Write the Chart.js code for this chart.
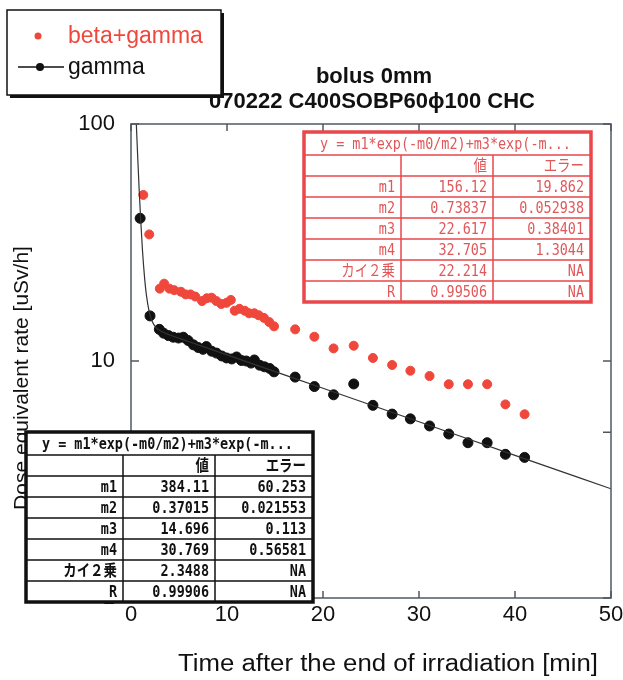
<!DOCTYPE html>
<html>
<head>
<meta charset="utf-8">
<script src="https://cdn.jsdelivr.net/npm/chart.js@4.4.1/dist/chart.umd.min.js"></script>
<style>
  body { margin: 0; background: #fff; }
  canvas { display: block; }
</style>
</head>
<body>
<canvas id="myChart" width="623" height="680"></canvas>
<script>
// gamma (black dots), time [min] and rate [uSv/h]
const gammaTime = [0.95, 1.98, 2.95, 3.4, 3.9, 4.4, 4.95, 5.45, 5.95, 6.5, 7.0, 7.5, 7.85, 8.4, 8.9, 9.45, 9.95, 10.5, 11.0, 11.5, 12.0, 12.5, 12.85, 13.4, 13.9, 14.45, 14.9,
  17.1, 19.1, 21.1, 23.2, 25.2, 27.2, 29.1, 31.1, 33.1, 35.1, 37.1, 39.0, 41.0];
const gammaRate = [40.0, 15.5, 13.6, 13.1, 12.8, 12.6, 12.5, 12.6, 12.2, 11.7, 11.4, 11.2, 11.5, 11.0, 10.8, 10.5, 10.3, 10.2, 10.4, 10.05, 10.0, 9.8, 10.1, 9.6, 9.45, 9.3, 9.0,
  8.55, 7.8, 7.2, 8.0, 6.5, 5.97, 5.7, 5.32, 4.92, 4.52, 4.52, 4.04, 3.92];

// beta+gamma (red dots)
const betaTime = [1.28, 1.9, 3.0, 3.45, 4.0, 4.5, 5.2, 5.7, 6.2, 6.7, 7.4, 7.9, 8.4, 8.9, 9.4, 9.95, 10.4, 10.8, 11.3, 11.85, 12.3, 12.85, 13.3, 13.85, 14.4, 14.9,
  17.1, 19.1, 21.1, 23.2, 25.2, 27.2, 29.1, 31.1, 33.1, 35.1, 37.1, 39.0, 41.0];
const betaRate = [50.2, 34.2, 20.2, 21.2, 20.2, 19.9, 19.6, 19.1, 19.1, 18.7, 17.9, 18.4, 18.5, 17.9, 17.4, 17.6, 18.1, 16.3, 16.6, 16.3, 15.9, 15.9, 15.6, 15.2, 14.6, 14.0,
  13.6, 12.66, 11.3, 11.6, 10.3, 9.62, 9.1, 8.64, 7.98, 7.98, 7.98, 6.56, 5.96];

// fitted curve for gamma
const fitTime = [0.555, 0.7, 0.85, 1.0, 1.2, 1.4, 1.6, 1.9, 2.2, 2.6, 3.0, 4.0, 6.0, 10, 20, 30, 40, 50];
const fitRate = [100, 72.3, 52.9, 40.0, 29.1, 22.8, 19.05, 16.1, 14.7, 13.85, 13.45, 12.9, 12.09, 10.62, 7.67, 5.54, 4.0, 2.89];

const xTicks = [0, 10, 20, 30, 40, 50];
const yTicks = [1, 10, 100];
const yMinor = [5];

// fit result tables
const tableHead = "y = m1*exp(-m0/m2)+m3*exp(-m...";
const colNames = ["値", "エラー"];
const rowNames = ["m1", "m2", "m3", "m4", "カイ２乗", "R"];
const gammaValue = ["384.11", "0.37015", "14.696", "30.769", "2.3488", "0.99906"];
const gammaError = ["60.253", "0.021553", "0.113", "0.56581", "NA", "NA"];
const betaValue = ["156.12", "0.73837", "22.617", "32.705", "22.214", "0.99506"];
const betaError = ["19.862", "0.052938", "0.38401", "1.3044", "NA", "NA"];

const RED = "#f0473c";

const toPoints = (xs, ys) => xs.map((v, i) => ({ x: v, y: ys[i] }));

const cellText = (ctx, text, x, y, align, bold) => {
  ctx.save();
  ctx.font = (bold ? "bold " : "") + '16px "DejaVu Sans Mono", "Noto Sans CJK JP"';
  ctx.textAlign = align;
  ctx.textBaseline = "middle";
  ctx.translate(x, y);
  ctx.scale(0.84, 1);
  ctx.fillText(text, 0, 0);
  ctx.restore();
};

const drawTable = (ctx, x0, y0, line, textColor, bold, values, errors) => {
  const cols = [97, 92, 98];
  const headH = 23, rowH = 21;
  const w = cols[0] + cols[1] + cols[2];
  const h = headH + rowH * 7;
  ctx.save();
  ctx.fillStyle = "#fff";
  ctx.fillRect(x0, y0, w, h);
  ctx.strokeStyle = line;
  ctx.lineWidth = 1.5;
  ctx.beginPath();
  for (let r = 0; r < 7; r++) {
    const yy = y0 + headH + r * rowH;
    ctx.moveTo(x0, yy);
    ctx.lineTo(x0 + w, yy);
  }
  ctx.moveTo(x0 + cols[0], y0 + headH);
  ctx.lineTo(x0 + cols[0], y0 + h);
  ctx.moveTo(x0 + cols[0] + cols[1], y0 + headH);
  ctx.lineTo(x0 + cols[0] + cols[1], y0 + h);
  ctx.stroke();
  ctx.lineWidth = 3.5;
  ctx.strokeRect(x0, y0, w, h);

  ctx.fillStyle = textColor;
  cellText(ctx, tableHead, x0 + 16, y0 + headH / 2 + 1, "left", bold);
  const c1 = x0 + cols[0] - 6, c2 = x0 + cols[0] + cols[1] - 6, c3 = x0 + w - 7;
  let yy = y0 + headH + rowH / 2 + 1;
  cellText(ctx, colNames[0], c2, yy, "right", bold);
  cellText(ctx, colNames[1], c3, yy, "right", bold);
  rowNames.forEach((name, i) => {
    yy = y0 + headH + rowH * (i + 1) + rowH / 2 + 1;
    cellText(ctx, name, c1, yy, "right", bold);
    cellText(ctx, values[i], c2, yy, "right", bold);
    cellText(ctx, errors[i], c3, yy, "right", bold);
  });
  ctx.restore();
};

const decor = {
  id: "decor",
  afterDraw(chart) {
    const { ctx, chartArea: a, scales } = chart;
    const x = scales.x, y = scales.y;
    ctx.save();

    // frame with inward ticks
    ctx.strokeStyle = "#4f5862";
    ctx.lineWidth = 1.5;
    ctx.strokeRect(a.left, a.top, a.right - a.left, a.bottom - a.top);
    ctx.beginPath();
    xTicks.forEach(v => {
      const px = x.getPixelForValue(v);
      ctx.moveTo(px, a.bottom); ctx.lineTo(px, a.bottom - 7);
      ctx.moveTo(px, a.top); ctx.lineTo(px, a.top + 7);
    });
    yTicks.concat(yMinor).forEach(v => {
      const py = y.getPixelForValue(v);
      ctx.moveTo(a.left, py); ctx.lineTo(a.left + 8, py);
      ctx.moveTo(a.right, py); ctx.lineTo(a.right - 8, py);
    });
    ctx.stroke();

    // axis titles
    ctx.fillStyle = "#111";
    ctx.textAlign = "center";
    ctx.textBaseline = "middle";
    ctx.save();
    ctx.translate(388, 665);
    ctx.scale(1.12, 1);
    ctx.font = '23px "Liberation Sans", Arial';
    ctx.fillText("Time after the end of irradiation [min]", 0, 0);
    ctx.restore();

    ctx.save();
    ctx.translate(22, 378);
    ctx.rotate(-Math.PI / 2);
    ctx.font = '21px "Liberation Sans", Arial';
    ctx.fillText("Dose equivalent rate [uSv/h]", 0, 0);
    ctx.restore();

    // fit tables
    drawTable(ctx, 304, 132, "#e8474b", "#e0585a", false, betaValue, betaError);
    drawTable(ctx, 26, 432, "#111", "#111", true, gammaValue, gammaError);

    // title
    ctx.fillStyle = "#111";
    ctx.textAlign = "center";
    ctx.textBaseline = "middle";
    ctx.font = 'bold 22px "Liberation Sans", Arial';
    ctx.fillText("bolus 0mm", 374, 77);
    ctx.fillText("070222 C400SOBP60ϕ100 CHC", 372, 102);

    // legend box with shadow
    ctx.fillStyle = "#111";
    ctx.fillRect(10, 13, 214, 85);
    ctx.fillStyle = "#fff";
    ctx.fillRect(7, 10, 214, 85);
    ctx.strokeStyle = "#111";
    ctx.lineWidth = 1.5;
    ctx.strokeRect(7, 10, 214, 85);

    ctx.fillStyle = RED;
    ctx.beginPath();
    ctx.arc(38, 36, 3.5, 0, Math.PI * 2);
    ctx.fill();
    ctx.textAlign = "left";
    ctx.font = '23px "Liberation Sans", Arial';
    ctx.fillText("beta+gamma", 68, 37);

    ctx.strokeStyle = "#111";
    ctx.lineWidth = 1.3;
    ctx.beginPath();
    ctx.moveTo(18, 67); ctx.lineTo(64, 67);
    ctx.stroke();
    ctx.fillStyle = "#111";
    ctx.beginPath();
    ctx.arc(40, 67, 4, 0, Math.PI * 2);
    ctx.fill();
    ctx.fillText("gamma", 68, 68);

    ctx.restore();
  }
};

const ctx = document.getElementById("myChart").getContext("2d");

const config = {
  type: "scatter",
  data: {
    datasets: [
      {
        label: "fit",
        data: toPoints(fitTime, fitRate),
        showLine: true,
        cubicInterpolationMode: "monotone",
        borderColor: "#333",
        borderWidth: 1.2,
        pointRadius: 0,
      },
      {
        label: "gamma",
        data: toPoints(gammaTime, gammaRate),
        backgroundColor: "#111",
        borderColor: "#111",
        pointRadius: 5,
      },
      {
        label: "beta+gamma",
        data: toPoints(betaTime, betaRate),
        backgroundColor: RED,
        borderColor: RED,
        pointRadius: 4.5,
      },
    ],
  },
  options: {
    responsive: false,
    animation: false,
    devicePixelRatio: 1,
    layout: { padding: { top: 124, right: 0, left: 0, bottom: 0 } },
    plugins: {
      legend: { display: false },
      tooltip: { enabled: false },
    },
    scales: {
      x: {
        type: "linear",
        min: 0,
        max: 50,
        grid: { display: false },
        border: { display: false },
        afterBuildTicks: (s) => { s.ticks = xTicks.map(v => ({ value: v })); },
        afterFit: (s) => { s.height = 82; s.paddingRight = 12; s.paddingLeft = 0; },
        ticks: {
          padding: -4,
          color: "#111",
          font: { family: "Liberation Sans", size: 22 },
        },
      },
      y: {
        type: "logarithmic",
        min: 1,
        max: 100,
        grid: { display: false },
        border: { display: false },
        afterBuildTicks: (s) => { s.ticks = yTicks.map(v => ({ value: v })); },
        afterFit: (s) => { s.width = 131; },
        ticks: {
          padding: 8,
          color: "#111",
          font: { family: "Liberation Sans", size: 22 },
          callback: (v) => String(v),
        },
      },
    },
  },
  plugins: [decor],
};

const myChart = new Chart(ctx, config);
</script>
</body>
</html>
